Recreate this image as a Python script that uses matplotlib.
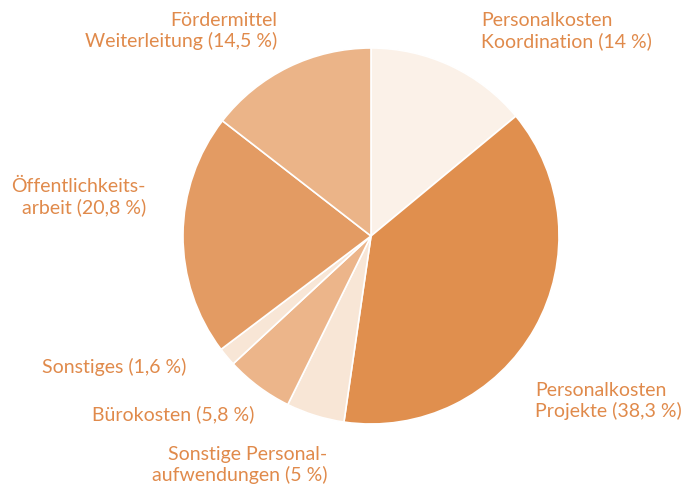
import matplotlib.pyplot as plt

labels = ["Personalkosten\nKoordination (14 %)",
          "Personalkosten\nProjekte (38,3 %)",
          "Sonstige Personal-\naufwendungen (5 %)",
          "Bürokosten (5,8 %)",
          "Sonstiges (1,6 %)",
          "Öffentlichkeits-\narbeit (20,8 %)",
          "Fördermittel\nWeiterleitung (14,5 %)"]
values = [14, 38.3, 5, 5.8, 1.6, 20.8, 14.5]
colors = ["#FBF1E8", "#E08F4E", "#F8E6D6", "#ECB58A", "#F8E6D6", "#E39B63", "#EBB488"]

W, H = 683, 493
cx, cy, r = 371, 236, 188

fig = plt.figure(figsize=(W / 100, H / 100), dpi=100)
ax = fig.add_axes([(cx - r) / W, (H - cy - r) / H, 2 * r / W, 2 * r / H])
ax.pie(values, colors=colors, startangle=90, counterclock=False, radius=1,
       wedgeprops=dict(edgecolor="white", linewidth=1.2))
ax.set_xlim(-1, 1)
ax.set_ylim(-1, 1)
ax.axis("off")

# label anchors in pixel coords of the picture: (x, y, alignment)
label_pos = [(481, 31, "left"),
             (535, 401, "left"),
             (327, 465, "right"),
             (254, 414, "right"),
             (186, 367, "right"),
             (146, 197, "right"),
             (277, 31, "right")]

txt_color = "#E08A4B"
for lab, (px, py, ha) in zip(labels, label_pos):
    ax.text((px - cx) / r, (cy - py) / r, lab, ha=ha, va="center", multialignment=ha,
            color=txt_color, fontsize=14, family="Lato", linespacing=1.2, clip_on=False)

fig.savefig("out.png", dpi=100)
